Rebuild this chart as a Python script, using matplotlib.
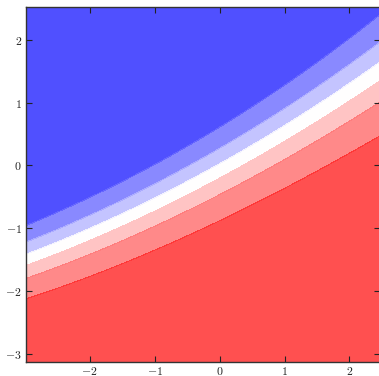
import numpy as np
import matplotlib
matplotlib.use('Agg')
import matplotlib.pyplot as plt

# logistic classifier: p = sigmoid(s(x) * (g(x) - y))
boundary_coef = [0.031, 0.57, -0.05]   # g(x), decision line (quadratic in x)
steepness_coef = [-0.244, 2.64]        # s(x), slope of the logit across the line
prob_levels = [0.0, 0.15, 0.30, 0.45, 0.60, 0.75, 0.90, 1.05]

x_range = [-2.98, 2.47]
y_range = [-3.13, 2.52]
x_ticks = [-2, -1, 0, 1, 2]
y_ticks = [-3, -2, -1, 0, 1, 2]

h = 0.02
xx, yy = np.meshgrid(np.arange(x_range[0], x_range[1] + h, h),
                     np.arange(y_range[0], y_range[1] + h, h))
logit = np.polyval(steepness_coef, xx) * (np.polyval(boundary_coef, xx) - yy)
prob = 1.0 / (1.0 + np.exp(-logit))

plt.rcParams['font.family'] = 'serif'
plt.rcParams['font.serif'] = ['cmr10']
plt.rcParams['mathtext.fontset'] = 'cm'
plt.rcParams['axes.formatter.use_mathtext'] = True

fig = plt.figure(figsize=(3.79, 3.76), dpi=100)
ax = fig.add_axes([26 / 379, 14 / 376, 354 / 379, 355 / 376])
ax.contourf(xx, yy, prob, levels=prob_levels, cmap=plt.cm.bwr, alpha=0.8)

ax.set_xlim(x_range)
ax.set_ylim(y_range)
ax.set_xticks(x_ticks)
ax.set_yticks(y_ticks)
ax.tick_params(direction='in', top=True, right=True, length=4, width=0.8,
               labelsize=8.5, pad=3, colors='#222222')
ax.tick_params(axis='x', pad=2)
for sp in ax.spines.values():
    sp.set_color('#333333')
    sp.set_linewidth(1.0)

fig.savefig('out.png', dpi=100)
